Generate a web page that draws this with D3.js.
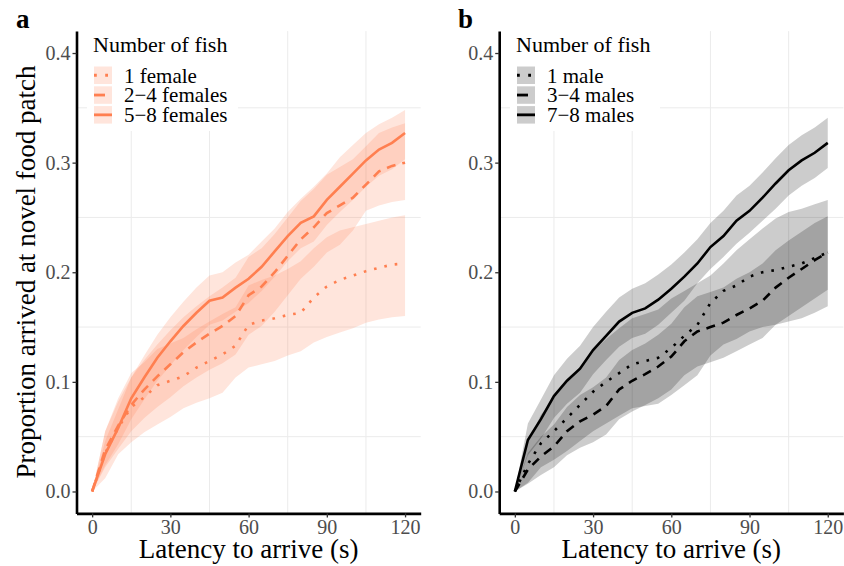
<!DOCTYPE html>
<html>
<head>
<meta charset="utf-8">
<script src="https://cdn.jsdelivr.net/npm/d3@7"></script>
<style>
  body { margin: 0; background: #fff; }
  svg { display: block; }
  svg text { font-family: "Liberation Serif", "Tinos", "DejaVu Serif", "Noto Serif", "Times New Roman", serif; }
</style>
</head>
<body>
<svg id="chart" width="844" height="566"></svg>
<script>
// Latency (s) at which the curves were read
const times = [0, 5, 10, 15, 20, 25, 30, 35, 40, 45, 50, 55, 60, 65, 70, 75, 80, 85, 90, 95, 100, 105, 110, 115, 120];

// Panel a - females
const fem1   = [0, .035, .058, .077, .086, .097, .101, .105, .113, .119, .125, .133, .152, .156, .158, .161, .163, .177, .187, .193, .197, .201, .204, .207, .208];
const fem1Lo = [0, .012, .034, .045, .054, .061, .068, .076, .081, .085, .090, .104, .113, .116, .119, .124, .128, .136, .141, .145, .149, .154, .157, .159, .160];
const fem1Hi = [0, .055, .085, .108, .118, .130, .135, .140, .148, .155, .162, .168, .188, .193, .197, .203, .210, .222, .232, .238, .241, .244, .247, .250, .252];

const fem24   = [0, .038, .060, .079, .093, .105, .116, .127, .136, .144, .151, .160, .179, .187, .200, .215, .230, .241, .254, .261, .268, .280, .292, .297, .300];
const fem24Lo = [0, .022, .039, .055, .067, .077, .086, .096, .104, .111, .117, .125, .143, .151, .164, .179, .194, .205, .218, .225, .238, .256, .261, .264, .266];
const fem24Hi = [0, .055, .082, .104, .120, .134, .147, .159, .169, .178, .186, .195, .214, .222, .235, .250, .265, .276, .289, .296, .303, .315, .327, .332, .336];

const fem58   = [0, .034, .058, .085, .104, .122, .137, .151, .163, .174, .177, .186, .194, .205, .219, .233, .245, .251, .266, .278, .290, .302, .312, .318, .327];
const fem58Lo = [0, .024, .043, .066, .084, .101, .115, .129, .141, .152, .156, .164, .172, .183, .196, .210, .222, .228, .243, .255, .266, .278, .288, .294, .303];
const fem58Hi = [0, .046, .075, .104, .124, .143, .159, .173, .186, .197, .200, .209, .216, .228, .240, .255, .267, .278, .290, .305, .316, .327, .335, .341, .348];

// Panel b - males
const male1   = [0, .025, .044, .055, .067, .079, .091, .100, .108, .116, .119, .122, .131, .142, .152, .172, .183, .188, .196, .200, .202, .205, .208, .213, .218];
const male1Lo = [0, .008, .022, .029, .037, .046, .055, .062, .069, .076, .078, .080, .088, .097, .106, .124, .134, .139, .146, .150, .152, .155, .158, .163, .169];
const male1Hi = [0, .045, .070, .085, .100, .114, .128, .139, .149, .158, .162, .166, .176, .183, .190, .197, .208, .220, .230, .240, .249, .255, .258, .262, .266];

const male34   = [0, .020, .032, .041, .055, .064, .070, .078, .093, .101, .107, .114, .123, .137, .146, .150, .154, .161, .167, .174, .186, .195, .203, .211, .218];
const male34Lo = [0, .007, .015, .022, .033, .040, .045, .052, .066, .073, .079, .085, .093, .106, .114, .118, .122, .128, .134, .140, .152, .160, .168, .176, .184];
const male34Hi = [0, .035, .050, .061, .077, .088, .095, .104, .120, .129, .135, .143, .153, .168, .178, .182, .186, .194, .200, .208, .220, .229, .237, .245, .251];

const male78   = [0, .047, .066, .087, .101, .112, .129, .142, .155, .163, .167, .175, .185, .196, .208, .223, .233, .247, .256, .268, .281, .293, .302, .309, .318];
const male78Lo = [0, .033, .048, .067, .080, .090, .107, .120, .132, .140, .144, .152, .163, .174, .190, .203, .214, .226, .236, .247, .258, .270, .279, .286, .295];
const male78Hi = [0, .062, .084, .106, .121, .133, .150, .164, .177, .185, .190, .198, .207, .218, .230, .245, .256, .270, .279, .291, .304, .316, .325, .332, .341];

const xTicks = [0, 30, 60, 90, 120];
const yTicks = [0, 0.1, 0.2, 0.3, 0.4];
const xMinor = [15, 45, 75, 105];
const yMinor = [0.05, 0.15, 0.25, 0.35];

const svg = d3.select("#chart");

function drawPanel(opt) {
  const g = svg.append("g");
  const x = d3.scaleLinear().domain([-6, 126]).range([opt.left, opt.right]);
  const y = d3.scaleLinear().domain([-0.02, 0.42]).range([513.4, 31.1]);

  // minor grid only (major grid is blank in the original theme)
  g.selectAll(".gx").data(xMinor).join("line")
    .attr("x1", d => x(d)).attr("x2", d => x(d))
    .attr("y1", y.range()[0]).attr("y2", y.range()[1])
    .attr("stroke", "#ebebeb").attr("stroke-width", 1);
  g.selectAll(".gy").data(yMinor).join("line")
    .attr("y1", d => y(d)).attr("y2", d => y(d))
    .attr("x1", opt.left).attr("x2", opt.right)
    .attr("stroke", "#ebebeb").attr("stroke-width", 1);

  // confidence ribbons
  const area = d3.area().x(d => x(d.t)).y0(d => y(d.lo)).y1(d => y(d.hi));
  opt.series.forEach(s => {
    g.append("path")
      .datum(times.map((t, i) => ({ t: t, lo: s.lo[i], hi: s.hi[i] })))
      .attr("d", area)
      .attr("fill", opt.fill)
      .attr("fill-opacity", 0.2);
  });

  // curves
  const line = d3.line().x(d => x(d.t)).y(d => y(d.v));
  opt.series.forEach(s => {
    g.append("path")
      .datum(times.map((t, i) => ({ t: t, v: s.v[i] })))
      .attr("d", line)
      .attr("fill", "none")
      .attr("stroke", opt.color)
      .attr("stroke-width", 2.6)
      .attr("stroke-dasharray", s.dash);
  });

  // legend
  const lg = g.append("g");
  lg.append("rect")
    .attr("x", opt.legX - 7).attr("y", 28)
    .attr("width", opt.legW).attr("height", 103)
    .attr("fill", "#fff");
  lg.append("text")
    .attr("x", opt.legX - 1).attr("y", 52)
    .attr("font-size", 22)
    .text("Number of fish");
  opt.series.forEach((s, i) => {
    const ky = 66.5 + i * 19.8;
    lg.append("rect")
      .attr("x", opt.legX).attr("y", ky)
      .attr("width", 18).attr("height", 17.5)
      .attr("fill", opt.fill).attr("fill-opacity", 0.2);
    lg.append("line")
      .attr("x1", opt.legX).attr("x2", opt.legX + 18)
      .attr("y1", ky + 8.75).attr("y2", ky + 8.75)
      .attr("stroke", opt.color).attr("stroke-width", 2.8)
      .attr("stroke-dasharray", s.keyDash);
    lg.append("text")
      .attr("x", opt.legX + 30).attr("y", ky + 16)
      .attr("font-size", 21)
      .text(s.label);
  });

  // axes
  const ax = g.append("g")
    .attr("transform", `translate(0,${y.range()[0]})`)
    .call(d3.axisBottom(x).tickValues(xTicks).tickSize(4).tickSizeOuter(0).tickPadding(2.5));
  const ay = g.append("g")
    .attr("transform", `translate(${opt.left},0)`)
    .call(d3.axisLeft(y).tickValues(yTicks).tickFormat(d3.format(".1f")).tickSize(4).tickSizeOuter(0).tickPadding(2));
  [ax, ay].forEach(a => {
    a.attr("font-family", null).attr("font-size", null);
    a.select(".domain").attr("stroke", "#000").attr("stroke-width", 2.6);
    a.selectAll(".tick line").attr("stroke", "#333").attr("stroke-width", 1.3);
    a.selectAll(".tick text").attr("fill", "#4d4d4d").attr("font-size", 20);
  });

  g.append("text")
    .attr("x", (opt.left + opt.right) / 2).attr("y", 558)
    .attr("text-anchor", "middle").attr("font-size", 27)
    .text("Latency to arrive (s)");

  g.append("text")
    .attr("x", opt.tagX).attr("y", 28)
    .attr("font-size", 27).attr("font-weight", "bold")
    .text(opt.tag);
}

drawPanel({
  left: 76.5, right: 420.7, tag: "a", tagX: 16,
  color: "#FF7F50", fill: "#FF7F50", legX: 94, legW: 151,
  series: [
    { label: "1 female", v: fem1, lo: fem1Lo, hi: fem1Hi, dash: "2.6,8", keyDash: "2.8,8.4" },
    { label: "2\u22124 females", v: fem24, lo: fem24Lo, hi: fem24Hi, dash: "9,7", keyDash: "11,11" },
    { label: "5\u22128 females", v: fem58, lo: fem58Lo, hi: fem58Hi, dash: null, keyDash: null }
  ]
});

drawPanel({
  left: 499.2, right: 843.4, tag: "b", tagX: 458,
  color: "#000", fill: "#000", legX: 517, legW: 150,
  series: [
    { label: "1 male", v: male1, lo: male1Lo, hi: male1Hi, dash: "2.6,8", keyDash: "2.8,8.4" },
    { label: "3\u22124 males", v: male34, lo: male34Lo, hi: male34Hi, dash: "9,7", keyDash: "11,11" },
    { label: "7\u22128 males", v: male78, lo: male78Lo, hi: male78Hi, dash: null, keyDash: null }
  ]
});

// shared y-axis title
svg.append("text")
  .attr("transform", "translate(35,272) rotate(-90)")
  .attr("text-anchor", "middle").attr("font-size", 27)
  .text("Proportion arrived at novel food patch");
</script>
</body>
</html>
